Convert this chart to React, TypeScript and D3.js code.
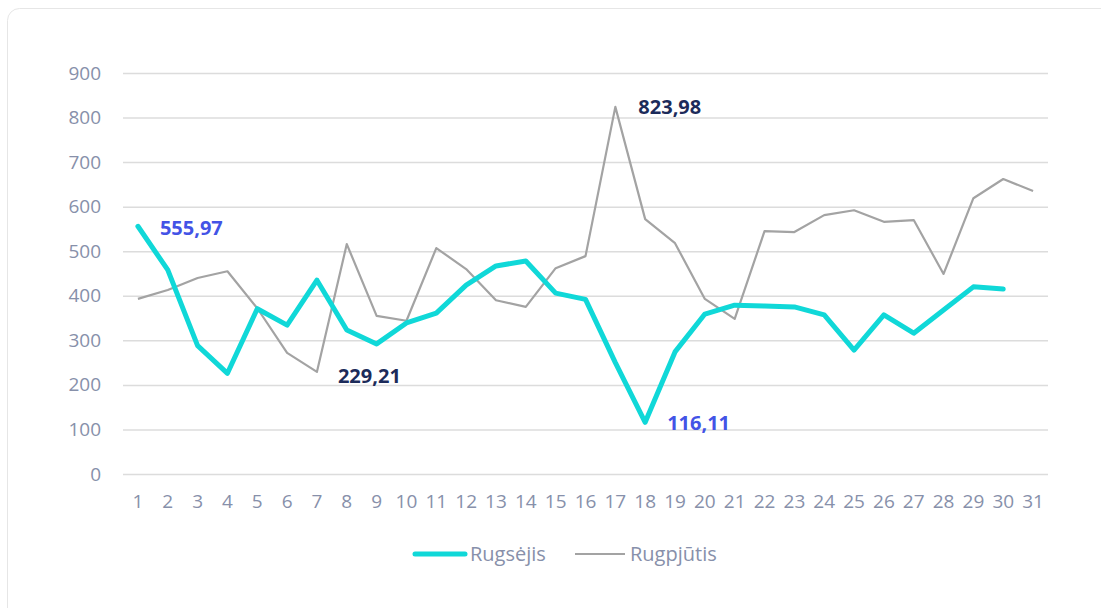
import React, { useEffect, useRef } from "react";
import * as d3 from "d3";

const days = d3.range(1, 32).map(String);
const septValues = [
  555.97, 458, 288, 226, 371, 334, 435, 323, 292, 339, 361, 424, 467, 478,
  406, 392, 250, 116.11, 274, 359, 379, 377, 375, 357, 278, 357, 316, 368,
  420, 415,
];
const augValues = [
  393, 413, 440, 455, 372, 272, 229.21, 516, 355, 344, 507, 460, 390, 375,
  462, 489, 823.98, 572, 518, 393, 348, 545, 543, 581, 592, 566, 570, 449,
  619, 662, 635,
];
const yTicks = [0, 100, 200, 300, 400, 500, 600, 700, 800, 900];
const seriesNames = ["Rugsėjis", "Rugpjūtis"];
const callouts = [
  { series: 0, day: 1, text: "555,97", color: "#4353e6", dx: 22, dy: 9 },
  { series: 1, day: 7, text: "229,21", color: "#1c2b5a", dx: 21, dy: 11 },
  { series: 1, day: 17, text: "823,98", color: "#1c2b5a", dx: 23, dy: 7 },
  { series: 0, day: 18, text: "116,11", color: "#4353e6", dx: 22, dy: 8 },
];

const W = 1101;
const H = 608;
const margin = { top: 73, right: 53, bottom: 134, left: 123 };
const FONT = "'Open Sans', 'Noto Sans', sans-serif";

const App = () => {
  const ref = useRef(null);

  useEffect(() => {
    const svg = d3.select(ref.current);
    svg.selectAll("*").remove();

    const x = d3
      .scaleBand()
      .domain(days)
      .range([margin.left, W - margin.right]);
    const y = d3
      .scaleLinear()
      .domain([0, 900])
      .range([H - margin.bottom, margin.top]);
    const cx = (i) => x(days[i]) + x.bandwidth() / 2;

    // card
    svg
      .append("rect")
      .attr("x", 7.5)
      .attr("y", 8.5)
      .attr("width", 1120)
      .attr("height", 640)
      .attr("rx", 12)
      .attr("fill", "#fff")
      .attr("stroke", "#e6e6e6");

    // grid + y axis
    const yAxis = svg
      .append("g")
      .attr("transform", `translate(${margin.left},0)`)
      .call(
        d3
          .axisLeft(y)
          .tickValues(yTicks)
          .tickSize(-(W - margin.left - margin.right))
          .tickPadding(22)
      );
    yAxis.select(".domain").remove();
    yAxis.selectAll(".tick line").attr("stroke", "#dcdcdc").attr("stroke-width", 1.5);
    yAxis
      .selectAll(".tick text")
      .attr("fill", "#8790aa")
      .attr("font-size", 19)
      .attr("font-family", FONT);

    // x axis
    const xAxis = svg
      .append("g")
      .attr("transform", `translate(0,${H - margin.bottom})`)
      .call(d3.axisBottom(x).tickSize(0).tickPadding(21));
    xAxis.select(".domain").remove();
    xAxis
      .selectAll(".tick text")
      .attr("fill", "#8790aa")
      .attr("font-size", 19)
      .attr("font-family", FONT);

    const line = d3
      .line()
      .x((d, i) => cx(i))
      .y((d) => y(d));

    svg
      .append("path")
      .datum(augValues)
      .attr("fill", "none")
      .attr("stroke", "#a3a3a3")
      .attr("stroke-width", 2.2)
      .attr("stroke-linejoin", "round")
      .attr("d", line);

    svg
      .append("path")
      .datum(septValues)
      .attr("fill", "none")
      .attr("stroke", "#10d8d8")
      .attr("stroke-width", 5)
      .attr("stroke-linejoin", "round")
      .attr("stroke-linecap", "round")
      .attr("d", line);

    const all = [septValues, augValues];
    callouts.forEach((c) => {
      svg
        .append("text")
        .attr("x", cx(c.day - 1) + c.dx)
        .attr("y", y(all[c.series][c.day - 1]) + c.dy)
        .attr("fill", c.color)
        .attr("font-size", 20)
        .attr("font-weight", 700)
        .attr("font-family", FONT)
        .text(c.text);
    });

    // legend
    const legend = svg.append("g").attr("transform", `translate(0,${554})`);
    const items = [
      { x: 415, len: 50, color: "#10d8d8", w: 5, cap: "round" },
      { x: 575, len: 50, color: "#a3a3a3", w: 2.2, cap: "butt" },
    ];
    items.forEach((it, i) => {
      legend
        .append("line")
        .attr("x1", it.x)
        .attr("x2", it.x + it.len)
        .attr("stroke", it.color)
        .attr("stroke-width", it.w)
        .attr("stroke-linecap", it.cap);
      legend
        .append("text")
        .attr("x", it.x + it.len + 5)
        .attr("dy", "0.35em")
        .attr("fill", "#8790aa")
        .attr("font-size", 20)
        .attr("font-family", FONT)
        .text(seriesNames[i]);
    });
  }, []);

  return (
    <svg
      ref={ref}
      width={W}
      height={H}
      style={{ position: "absolute", left: 0, top: 0, display: "block" }}
    />
  );
};

export default App;
